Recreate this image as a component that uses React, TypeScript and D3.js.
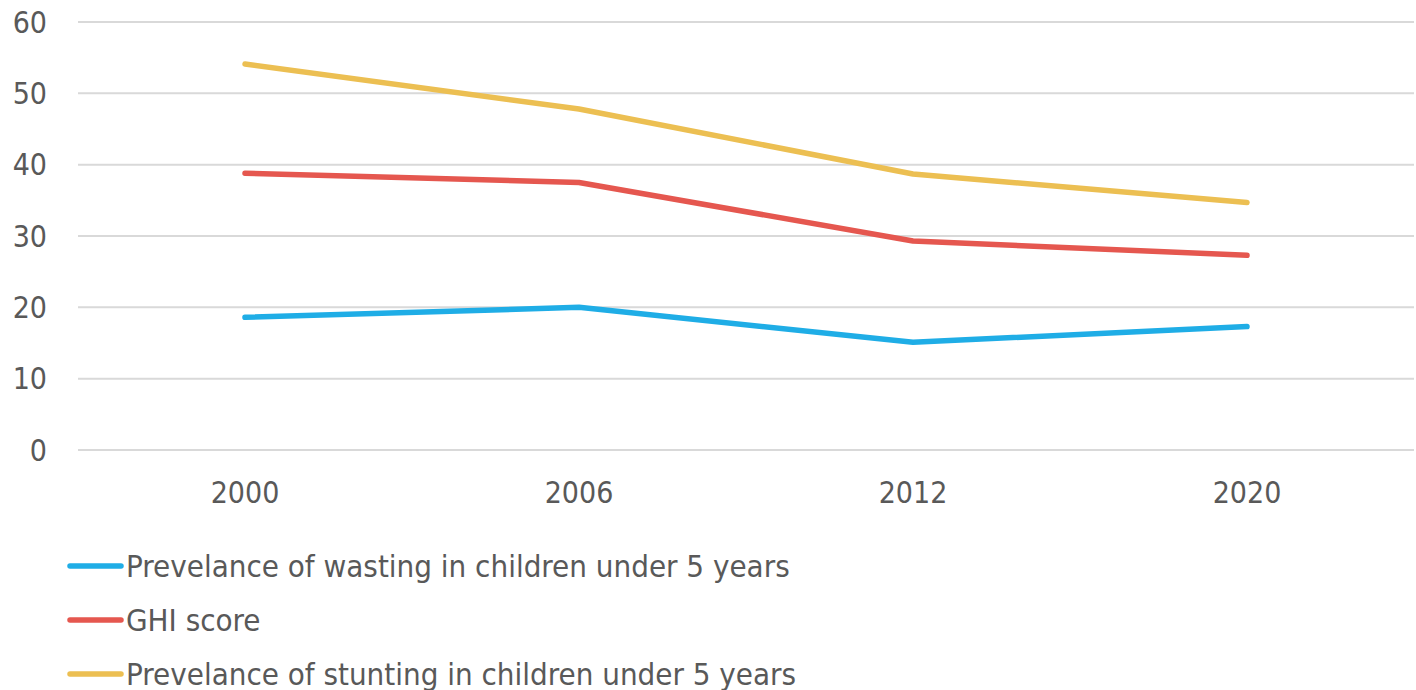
import React from "react";
import * as d3 from "d3";

const years = ["2000", "2006", "2012", "2020"];
const wasting = [18.6, 20.0, 15.1, 17.3];
const ghi = [38.8, 37.5, 29.3, 27.3];
const stunting = [54.1, 47.8, 38.7, 34.7];
const yTicks = [0, 10, 20, 30, 40, 50, 60];
const seriesNames = [
  "Prevelance of wasting in children under 5 years",
  "GHI score",
  "Prevelance of stunting in children under 5 years",
];
const seriesColors = ["#1fade6", "#e5574f", "#ecbf52"];

const W = 1416;
const H = 690;
const FONT = "Tahoma, 'DejaVu Sans Condensed', 'DejaVu Sans', sans-serif";

export default function App() {
  const x = d3.scaleBand<string>().domain(years).range([78, 1414]);
  const y = d3.scaleLinear().domain([0, 60]).range([450, 22]);
  const line = d3
    .line<number>()
    .x((_, i) => (x(years[i]) as number) + x.bandwidth() / 2)
    .y((d) => y(d));
  const data = [wasting, ghi, stunting];
  return (
    <svg
      width={W}
      height={H}
      style={{ position: "absolute", left: 0, top: 0 }}
      fontFamily={FONT}
    >
      <rect width={W} height={H} fill="#ffffff" />
      {yTicks.map((t) => (
        <g key={t}>
          <line x1={78} x2={1414} y1={y(t)} y2={y(t)} stroke="#d9d9d9" strokeWidth={2} />
          <text x={47} y={y(t)} dy="0.36em" textAnchor="end" fontSize={30} fill="#595959">
            {t}
          </text>
        </g>
      ))}
      {years.map((yr) => (
        <text
          key={yr}
          x={(x(yr) as number) + x.bandwidth() / 2}
          y={503}
          textAnchor="middle"
          fontSize={30}
          fill="#595959"
        >
          {yr}
        </text>
      ))}
      {data.map((d, i) => (
        <path
          key={i}
          d={line(d) || ""}
          fill="none"
          stroke={seriesColors[i]}
          strokeWidth={5.5}
          strokeLinecap="round"
          strokeLinejoin="round"
        />
      ))}
      {seriesNames.map((n, i) => (
        <g key={n} transform={`translate(0, ${566 + i * 54})`}>
          <line x1={70} x2={121} y1={0} y2={0} stroke={seriesColors[i]} strokeWidth={5.5} strokeLinecap="round" />
          <text x={126} y={0} dy="0.36em" fontSize={31} fill="#595959">
            {n}
          </text>
        </g>
      ))}
    </svg>
  );
}
